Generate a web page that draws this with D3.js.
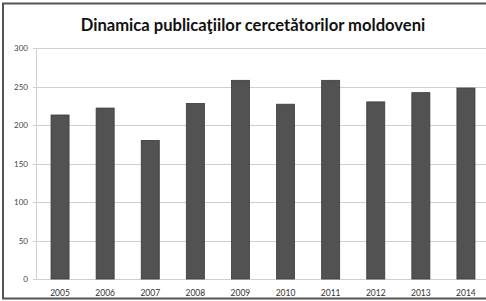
<!DOCTYPE html>
<html>
<head>
<meta charset="utf-8">
<script src="https://cdn.jsdelivr.net/npm/d3@7"></script>
<style>
  body { margin: 0; background: #fff; }
  svg { display: block; }
</style>
</head>
<body>
<div id="chart"></div>
<script>
// Chart data.
var years = ['2005', '2006', '2007', '2008', '2009', '2010', '2011', '2012', '2013', '2014'];
var publications = [213, 222, 180, 228, 258, 227, 258, 230, 242, 248];
var yTicks = [0, 50, 100, 150, 200, 250, 300];
var title = 'Dinamica publicaţiilor cercetătorilor moldoveni';

var width = 486, height = 301;
var margin = {top: 48, bottom: 22, left: 36};

var svg = d3.select('#chart')
            .append('svg')
            .attr('width', width)
            .attr('height', height);

// Frame around the chart.
svg.append('rect')
   .attr('x', 3)
   .attr('y', 3.5)
   .attr('width', width + 10)
   .attr('height', 295)
   .attr('fill', '#fff')
   .attr('stroke', '#555')
   .attr('stroke-width', 2);

// The plot area runs past the cropped right edge.
var x = d3.scaleBand()
          .domain(years)
          .range([margin.left + 1.5, width + 2.5])
          .paddingInner(0.6)
          .paddingOuter(0.3);

var y = d3.scaleLinear()
          .domain([0, 300])
          .range([height - margin.bottom, margin.top]);

// Gridlines.
svg.append('g')
   .selectAll('line')
   .data(yTicks)
   .join('line')
   .attr('x1', margin.left - 3)
   .attr('x2', width)
   .attr('y1', function(d) { return Math.round(y(d)) + 0.5; })
   .attr('y2', function(d) { return Math.round(y(d)) + 0.5; })
   .attr('stroke', '#cfcfcf')
   .attr('stroke-width', 1.2);

// Vertical axis line.
svg.append('line')
   .attr('x1', margin.left + 0.5)
   .attr('x2', margin.left + 0.5)
   .attr('y1', y(300))
   .attr('y2', y(0))
   .attr('stroke', '#cfcfcf');

// Y tick labels.
svg.append('g')
   .selectAll('text')
   .data(yTicks)
   .join('text')
   .attr('x', 28)
   .attr('y', function(d) { return y(d) + 3; })
   .attr('text-anchor', 'end')
   .attr('font-family', 'Lato, sans-serif')
   .attr('font-size', 8)
   .attr('fill', '#444')
   .text(function(d) { return d; });

// Bars.
svg.append('g')
   .selectAll('rect')
   .data(publications)
   .join('rect')
   .attr('x', function(d, i) { return x(years[i]); })
   .attr('y', function(d) { return y(d); })
   .attr('width', x.bandwidth())
   .attr('height', function(d) { return y(0) - y(d); })
   .attr('fill', '#525252')
   .attr('stroke', '#3a3a3a')
   .attr('stroke-width', 0.8);

// X labels.
svg.append('g')
   .selectAll('text')
   .data(years)
   .join('text')
   .attr('x', function(d) { return x(d) + x.bandwidth() / 2; })
   .attr('y', 296)
   .attr('text-anchor', 'middle')
   .attr('font-family', 'Lato, sans-serif')
   .attr('font-size', 8.5)
   .attr('fill', '#333')
   .text(function(d) { return d; });

// Title.
svg.append('text')
   .attr('x', 253)
   .attr('y', 30.5)
   .attr('text-anchor', 'middle')
   .attr('font-family', 'Lato, sans-serif')
   .attr('font-weight', 'bold')
   .attr('font-size', 16.6)
   .attr('fill', '#111')
   .text(title);
</script>
</body>
</html>
